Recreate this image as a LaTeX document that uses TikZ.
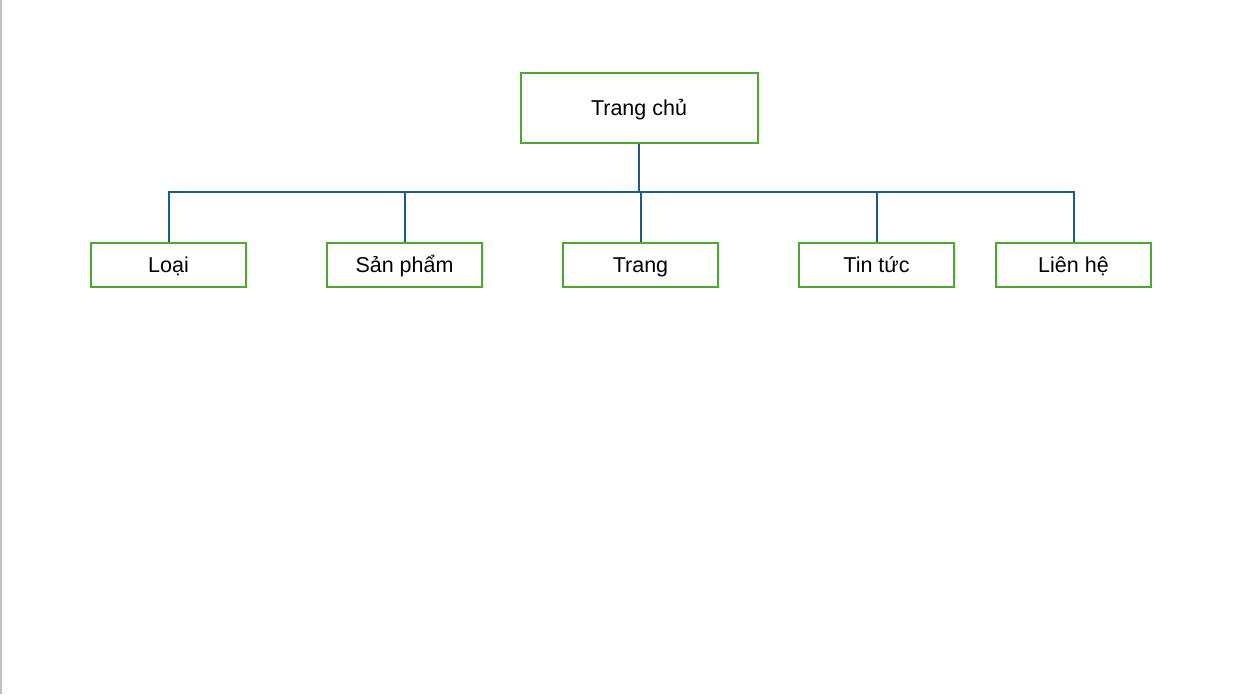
\documentclass[tikz,border=0pt]{standalone}
\usepackage{fontspec}
\setmainfont{Liberation Sans}
\definecolor{boxgreen}{HTML}{4EA72E}
\definecolor{linkblue}{HTML}{1F5C85}
\definecolor{edgegray}{HTML}{C0C0C0}
\begin{document}
\begin{tikzpicture}[x=1pt,y=-1pt,
  boxtext/.style={inner sep=0pt,text height=15.4pt,text depth=0pt,font=\fontsize{21.5}{25}\selectfont},
  topbox/.style={draw=boxgreen,line width=2pt,minimum width=237pt,minimum height=70pt,boxtext},
  subbox/.style={draw=boxgreen,line width=2pt,minimum width=155pt,minimum height=44pt,boxtext},
  link/.style={draw=linkblue,line width=2pt}]
\useasboundingbox (0,0) rectangle (1241,694);
\fill[white] (0,0) rectangle (1241,694);
\fill[edgegray] (0,0) rectangle (1.6,694);
\node[topbox] (home) at (639,107.5) {Trang chủ};
\node[subbox] (loai) at (168.5,265) {Loại};
\node[subbox] (sp) at (404.5,265) {Sản phẩm};
\node[subbox] (trang) at (640.5,265) {Trang};
\node[subbox] (tin) at (876.5,265) {Tin tức};
\node[subbox] (lh) at (1073.5,265) {Liên hệ};
\coordinate (bus) at (639,191.5);
\draw[link] (home.south) -- (bus);
\draw[link] (loai.north) |- (bus) -| (lh.north);
\draw[link] (sp.north) -- (sp.north |- bus);
\draw[link] (trang.north) -- (trang.north |- bus);
\draw[link] (tin.north) -- (tin.north |- bus);
\end{tikzpicture}
\end{document}
